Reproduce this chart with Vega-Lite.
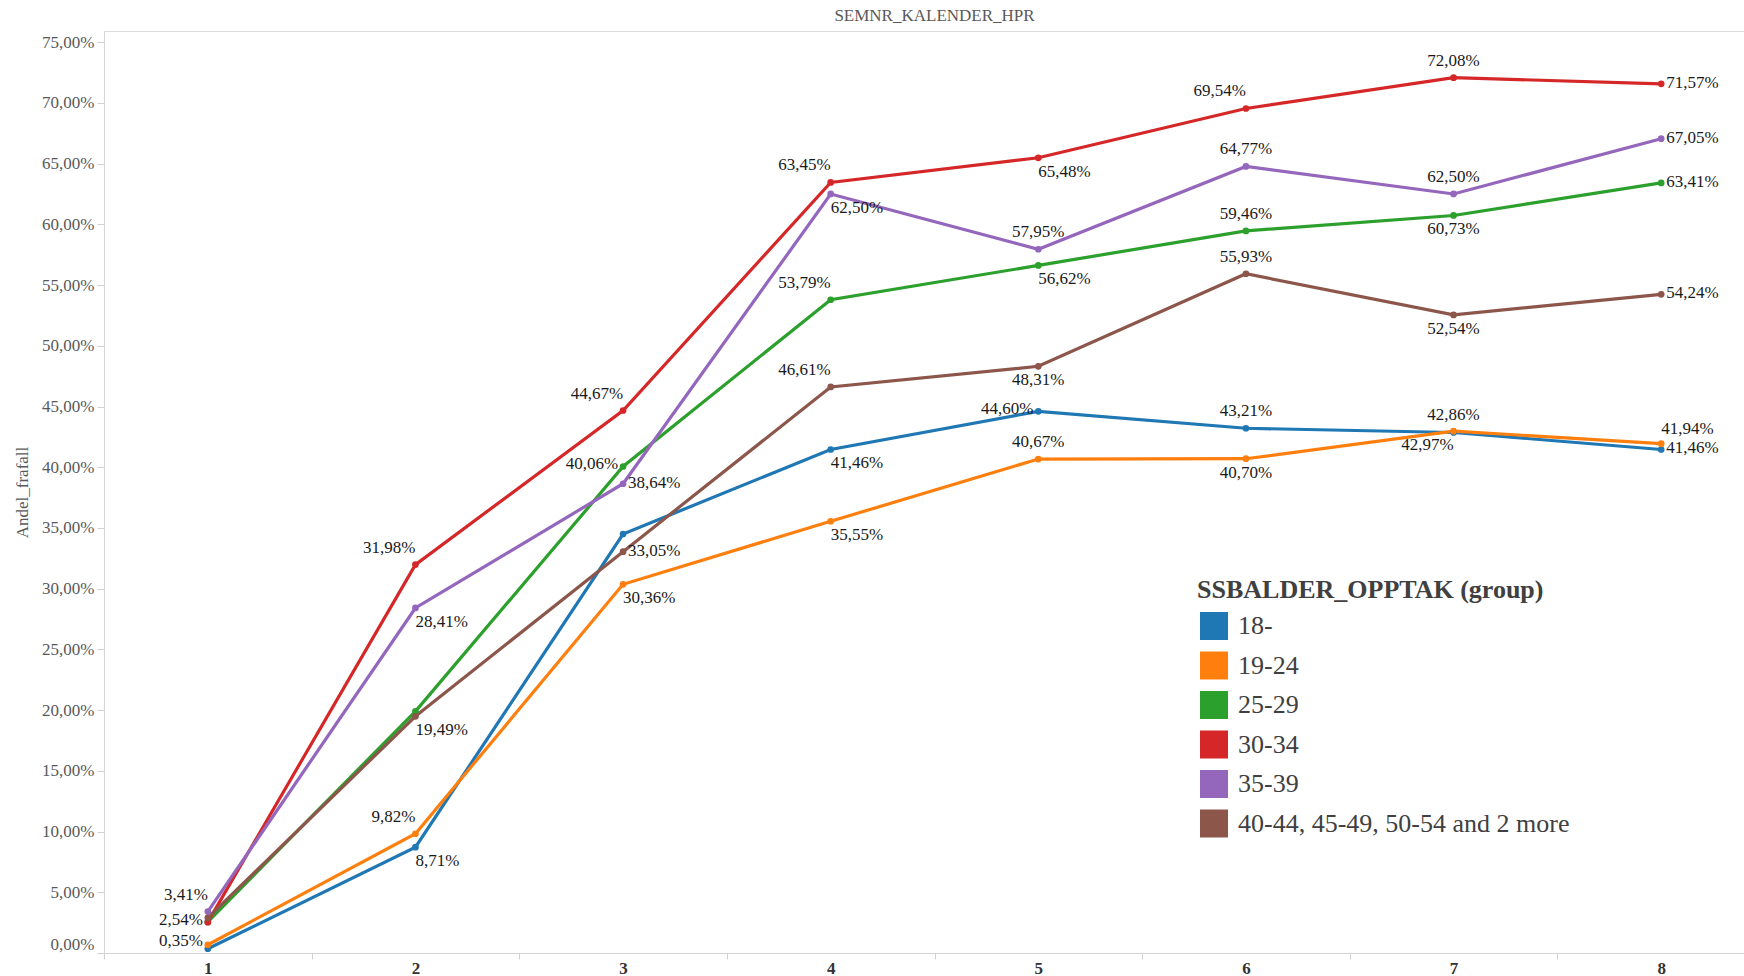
{
  "$schema": "https://vega.github.io/schema/vega-lite/v6.json",
  "width": 1661,
  "height": 922,
  "autosize": {"type": "none"},
  "padding": {"left": 104, "top": 31, "right": 0, "bottom": 23},
  "title": {"text": "SEMNR_KALENDER_HPR", "font": "Liberation Serif", "fontSize": 17, "fontWeight": "normal", "color": "#595959", "anchor": "middle", "offset": 6},
  "config": {"view": {"stroke": "#dcdcdc"}, "font": "Liberation Serif"},
  "resolve": {"legend": {"color": "independent"}},
  "data": {"values": [
    {"grp": "18-", "sem": 1, "v": 0.0035},
    {"grp": "18-", "sem": 2, "v": 0.0871},
    {"grp": "18-", "sem": 3, "v": 0.345},
    {"grp": "18-", "sem": 4, "v": 0.4146},
    {"grp": "18-", "sem": 5, "v": 0.4460},
    {"grp": "18-", "sem": 6, "v": 0.4321},
    {"grp": "18-", "sem": 7, "v": 0.4286},
    {"grp": "18-", "sem": 8, "v": 0.4146},
    {"grp": "19-24", "sem": 1, "v": 0.0068},
    {"grp": "19-24", "sem": 2, "v": 0.0982},
    {"grp": "19-24", "sem": 3, "v": 0.3036},
    {"grp": "19-24", "sem": 4, "v": 0.3555},
    {"grp": "19-24", "sem": 5, "v": 0.4067},
    {"grp": "19-24", "sem": 6, "v": 0.4070},
    {"grp": "19-24", "sem": 7, "v": 0.4297},
    {"grp": "19-24", "sem": 8, "v": 0.4194},
    {"grp": "25-29", "sem": 1, "v": 0.0256},
    {"grp": "25-29", "sem": 2, "v": 0.199},
    {"grp": "25-29", "sem": 3, "v": 0.4006},
    {"grp": "25-29", "sem": 4, "v": 0.5379},
    {"grp": "25-29", "sem": 5, "v": 0.5662},
    {"grp": "25-29", "sem": 6, "v": 0.5946},
    {"grp": "25-29", "sem": 7, "v": 0.6073},
    {"grp": "25-29", "sem": 8, "v": 0.6341},
    {"grp": "30-34", "sem": 1, "v": 0.0254},
    {"grp": "30-34", "sem": 2, "v": 0.3198},
    {"grp": "30-34", "sem": 3, "v": 0.4467},
    {"grp": "30-34", "sem": 4, "v": 0.6345},
    {"grp": "30-34", "sem": 5, "v": 0.6548},
    {"grp": "30-34", "sem": 6, "v": 0.6954},
    {"grp": "30-34", "sem": 7, "v": 0.7208},
    {"grp": "30-34", "sem": 8, "v": 0.7157},
    {"grp": "35-39", "sem": 1, "v": 0.0341},
    {"grp": "35-39", "sem": 2, "v": 0.2841},
    {"grp": "35-39", "sem": 3, "v": 0.3864},
    {"grp": "35-39", "sem": 4, "v": 0.6250},
    {"grp": "35-39", "sem": 5, "v": 0.5795},
    {"grp": "35-39", "sem": 6, "v": 0.6477},
    {"grp": "35-39", "sem": 7, "v": 0.6250},
    {"grp": "35-39", "sem": 8, "v": 0.6705},
    {"grp": "40-44, 45-49, 50-54 and 2 more", "sem": 1, "v": 0.029},
    {"grp": "40-44, 45-49, 50-54 and 2 more", "sem": 2, "v": 0.1949},
    {"grp": "40-44, 45-49, 50-54 and 2 more", "sem": 3, "v": 0.3305},
    {"grp": "40-44, 45-49, 50-54 and 2 more", "sem": 4, "v": 0.4661},
    {"grp": "40-44, 45-49, 50-54 and 2 more", "sem": 5, "v": 0.4831},
    {"grp": "40-44, 45-49, 50-54 and 2 more", "sem": 6, "v": 0.5593},
    {"grp": "40-44, 45-49, 50-54 and 2 more", "sem": 7, "v": 0.5254},
    {"grp": "40-44, 45-49, 50-54 and 2 more", "sem": 8, "v": 0.5424}
  ]},
  "transform": [
    {"calculate": "replace(format(datum.v, '.2%'), '.', ',')", "as": "lbl"},
    {"calculate": "datum.grp + '|' + datum.sem", "as": "key"}
  ],
  "encoding": {
    "x": {"field": "sem", "type": "ordinal", "scale": {"type": "band", "paddingInner": 0, "paddingOuter": 0},
      "axis": {"title": null, "labelAngle": 0, "tickBand": "extent", "tickSize": 6, "tickColor": "#d0d0d0", "domainColor": "#d4d4d4", "labelFont": "Liberation Serif", "labelFontSize": 17, "labelFontWeight": "bold", "labelColor": "#333333", "labelPadding": 1}},
    "y": {"field": "v", "type": "quantitative", "scale": {"domain": [0, 0.7592], "nice": false, "zero": false},
      "axis": {"title": "Andel_frafall", "titleFont": "Liberation Serif", "titleFontSize": 17, "titleFontWeight": "normal", "titleColor": "#595959", "titlePadding": 10,
        "values": [0, 0.05, 0.1, 0.15, 0.2, 0.25, 0.3, 0.35, 0.4, 0.45, 0.5, 0.55, 0.6, 0.65, 0.7, 0.75],
        "labelExpr": "replace(format(datum.value, '.2%'), '.', ',')",
        "labelFont": "Liberation Serif", "labelFontSize": 17, "labelColor": "#595959", "labelPadding": 3, "labelFlush": true,
        "tickSize": 7, "tickColor": "#d0d0d0", "domainColor": "#d4d4d4", "grid": false}}
  },
  "layer": [
    {"mark": {"type": "line", "strokeWidth": 3.2},
      "encoding": {"color": {"field": "grp", "type": "nominal", "legend": null,
        "scale": {"domain": ["18-", "19-24", "25-29", "30-34", "35-39", "40-44, 45-49, 50-54 and 2 more"], "range": ["#1f77b4", "#ff7f0e", "#2ca02c", "#d62728", "#9467bd", "#8c564b"]}}}},
    {"mark": {"type": "point", "filled": true, "size": 45, "opacity": 1},
      "encoding": {"color": {"field": "grp", "type": "nominal",
        "scale": {"domain": ["18-", "19-24", "25-29", "30-34", "35-39", "40-44, 45-49, 50-54 and 2 more"], "range": ["#1f77b4", "#ff7f0e", "#2ca02c", "#d62728", "#9467bd", "#8c564b"]},
        "legend": {"orient": "none", "legendX": 1093, "legendY": 546, "padding": 0,
          "title": "SSBALDER_OPPTAK (group)", "titleFont": "Liberation Serif", "titleFontSize": 26, "titleFontWeight": "bold", "titleColor": "#404040", "titlePadding": 9, "titleLimit": 800,
          "labelFont": "Liberation Serif", "labelFontSize": 26, "labelColor": "#404040", "labelLimit": 800, "labelOffset": 10,
          "symbolType": "square", "symbolSize": 784, "symbolStrokeWidth": 0, "symbolOpacity": 1, "symbolOffset": 3, "rowPadding": 11.5}}}},
    {"transform": [{"filter": "indexof(['35-39|1','30-34|2','19-24|2','30-34|3','30-34|4','25-29|4','40-44, 45-49, 50-54 and 2 more|4','30-34|6'], datum.key) >= 0"}],
      "mark": {"type": "text", "align": "right", "baseline": "middle", "dx": 0, "dy": -17, "font": "Liberation Serif", "fontSize": 17, "color": "#1a1a1a"},
      "encoding": {"text": {"field": "lbl"}}},
    {"transform": [{"filter": "indexof(['35-39|5','19-24|5','35-39|6','25-29|6','40-44, 45-49, 50-54 and 2 more|6','18-|6','30-34|7','35-39|7','18-|7'], datum.key) >= 0"}],
      "mark": {"type": "text", "align": "center", "baseline": "middle", "dx": 0, "dy": -17, "font": "Liberation Serif", "fontSize": 17, "color": "#1a1a1a"},
      "encoding": {"text": {"field": "lbl"}}},
    {"transform": [{"filter": "indexof(['35-39|2','40-44, 45-49, 50-54 and 2 more|2','18-|2','19-24|3','35-39|4','18-|4','19-24|4','30-34|5','25-29|5'], datum.key) >= 0"}],
      "mark": {"type": "text", "align": "left", "baseline": "middle", "dx": 0, "dy": 14, "font": "Liberation Serif", "fontSize": 17, "color": "#1a1a1a"},
      "encoding": {"text": {"field": "lbl"}}},
    {"transform": [{"filter": "indexof(['40-44, 45-49, 50-54 and 2 more|5','19-24|6','25-29|7','40-44, 45-49, 50-54 and 2 more|7'], datum.key) >= 0"}],
      "mark": {"type": "text", "align": "center", "baseline": "middle", "dx": 0, "dy": 14, "font": "Liberation Serif", "fontSize": 17, "color": "#1a1a1a"},
      "encoding": {"text": {"field": "lbl"}}},
    {"transform": [{"filter": "indexof(['30-34|1','25-29|3','18-|5'], datum.key) >= 0"}],
      "mark": {"type": "text", "align": "right", "baseline": "middle", "dx": -5, "dy": -2, "font": "Liberation Serif", "fontSize": 17, "color": "#1a1a1a"},
      "encoding": {"text": {"field": "lbl"}}},
    {"transform": [{"filter": "datum.key == '18-|1'"}],
      "mark": {"type": "text", "align": "right", "baseline": "middle", "dx": -5, "dy": -8, "font": "Liberation Serif", "fontSize": 17, "color": "#1a1a1a"},
      "encoding": {"text": {"field": "lbl"}}},
    {"transform": [{"filter": "indexof(['35-39|3','40-44, 45-49, 50-54 and 2 more|3','30-34|8','35-39|8','25-29|8','40-44, 45-49, 50-54 and 2 more|8','18-|8'], datum.key) >= 0"}],
      "mark": {"type": "text", "align": "left", "baseline": "middle", "dx": 5, "dy": -1, "font": "Liberation Serif", "fontSize": 17, "color": "#1a1a1a"},
      "encoding": {"text": {"field": "lbl"}}},
    {"transform": [{"filter": "datum.key == '19-24|7'"}],
      "mark": {"type": "text", "align": "right", "baseline": "middle", "dx": 0, "dy": 14, "font": "Liberation Serif", "fontSize": 17, "color": "#1a1a1a"},
      "encoding": {"text": {"field": "lbl"}}},
    {"transform": [{"filter": "datum.key == '19-24|8'"}],
      "mark": {"type": "text", "align": "left", "baseline": "middle", "dx": 0, "dy": -15, "font": "Liberation Serif", "fontSize": 17, "color": "#1a1a1a"},
      "encoding": {"text": {"field": "lbl"}}}
  ]
}
